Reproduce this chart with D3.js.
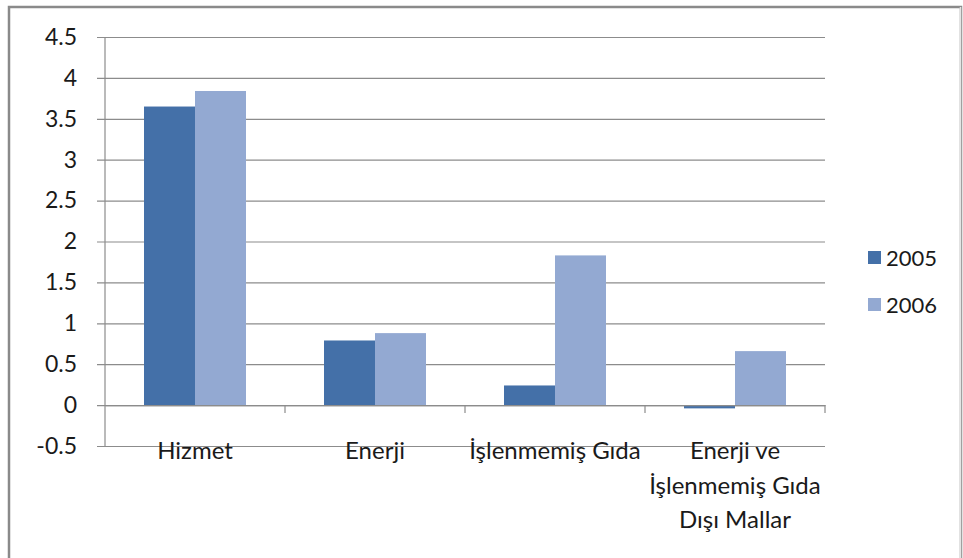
<!DOCTYPE html>
<html>
<head>
<meta charset="utf-8">
<script src="https://cdn.jsdelivr.net/npm/d3@7"></script>
<style>
  html, body { margin: 0; padding: 0; background: #fff; }
  svg { display: block; }
  text { font-family: Lato, "Open Sans", sans-serif; fill: #1a1a1a; }
</style>
</head>
<body>
<svg id="chart" width="963" height="558"></svg>
<script>
// Category labels (multi-line labels split on "\n")
const categories = ["Hizmet", "Enerji", "İşlenmemiş Gıda", "Enerji ve\nİşlenmemiş Gıda\nDışı Mallar"];
const seriesNames = ["2005", "2006"];
const values2005 = [3.65, 0.79, 0.24, -0.04];
const values2006 = [3.84, 0.88, 1.83, 0.66];
const yTicks = [-0.5, 0, 0.5, 1, 1.5, 2, 2.5, 3, 3.5, 4, 4.5];
const colors = ["#4470a8", "#93a9d2"];

const svg = d3.select("#chart");

// outer frame
svg.append("path")
  .attr("d", "M9,560 V7 H961 V560")
  .attr("fill", "none")
  .attr("stroke", "#8a8a8a")
  .attr("stroke-width", 2.5);
svg.append("line")
  .attr("x1", 960.5).attr("x2", 960.5).attr("y1", 7).attr("y2", 560)
  .attr("stroke", "#e4e4e4").attr("stroke-width", 1.5);

const plot = { left: 105, right: 825, top: 37, bottom: 446 };

const y = d3.scaleLinear().domain([-0.5, 4.5]).range([plot.bottom, plot.top]);
const x0 = d3.scaleBand().domain(categories).range([plot.left, plot.right]).padding(0);
const x1 = d3.scaleBand().domain(seriesNames)
  .range([0, x0.bandwidth()]).paddingInner(0).paddingOuter(0.765);

// horizontal gridlines + y tick labels
const yAxis = d3.axisLeft(y)
  .tickValues(yTicks)
  .tickSize(-(plot.right - plot.left))
  .tickPadding(28)
  .tickFormat(d => String(d));

const gy = svg.append("g")
  .attr("transform", `translate(${plot.left},0)`)
  .call(yAxis);
gy.select(".domain").remove();
gy.selectAll(".tick line")
  .attr("x1", -8)
  .attr("stroke", "#8c8c8c")
  .attr("stroke-width", 1.2);
gy.selectAll(".tick text")
  .style("font-size", "23px")
  .style("font-family", "Lato, 'Open Sans', sans-serif")
  .attr("fill", "#1a1a1a");

// vertical value axis line
svg.append("line")
  .attr("x1", plot.left).attr("x2", plot.left)
  .attr("y1", plot.top).attr("y2", plot.bottom)
  .attr("stroke", "#8c8c8c").attr("stroke-width", 1.2);

// bars
const rows = categories.map((c, i) => ({ cat: c, vals: [values2005[i], values2006[i]] }));
const groups = svg.append("g").selectAll("g")
  .data(rows).join("g")
  .attr("transform", d => `translate(${x0(d.cat)},0)`);

groups.selectAll("rect")
  .data(d => d.vals.map((v, k) => ({ name: seriesNames[k], v, k })))
  .join("rect")
  .attr("x", d => x1(d.name))
  .attr("width", x1.bandwidth())
  .attr("y", d => y(Math.max(0, d.v)))
  .attr("height", d => Math.abs(y(d.v) - y(0)))
  .attr("fill", d => colors[d.k]);

// category axis along zero line
const xAxis = d3.axisBottom(x0).tickSize(0).tickFormat("");
const gx = svg.append("g")
  .attr("transform", `translate(0,${y(0)})`)
  .call(xAxis);
gx.select(".domain")
  .attr("stroke", "#8c8c8c").attr("stroke-width", 1.2);
// category boundary tick marks
gx.selectAll(".boundary")
  .data(categories.map(c => x0(c) + x0.bandwidth()))
  .join("line")
  .attr("x1", d => d).attr("x2", d => d)
  .attr("y1", 0).attr("y2", 8)
  .attr("stroke", "#8c8c8c").attr("stroke-width", 1.2);

// category labels
const labels = svg.append("g").selectAll("text")
  .data(categories).join("text")
  .attr("x", d => x0(d) + x0.bandwidth() / 2)
  .attr("y", 459)
  .attr("text-anchor", "middle")
  .style("font-size", "24px");
labels.each(function(d) {
  const lines = d.split("\n");
  const t = d3.select(this);
  lines.forEach((ln, i) => {
    t.append("tspan")
      .attr("x", t.attr("x"))
      .attr("dy", i === 0 ? 0 : 34.5)
      .text(ln);
  });
});

// legend
const legend = svg.append("g").selectAll("g")
  .data(seriesNames).join("g")
  .attr("transform", (d, i) => `translate(868,${251 + i * 47})`);
legend.append("rect")
  .attr("width", 13).attr("height", 13)
  .attr("fill", (d, i) => colors[i]);
legend.append("text")
  .attr("x", 18).attr("y", 15)
  .style("font-size", "22px")
  .text(d => d);
</script>
</body>
</html>
